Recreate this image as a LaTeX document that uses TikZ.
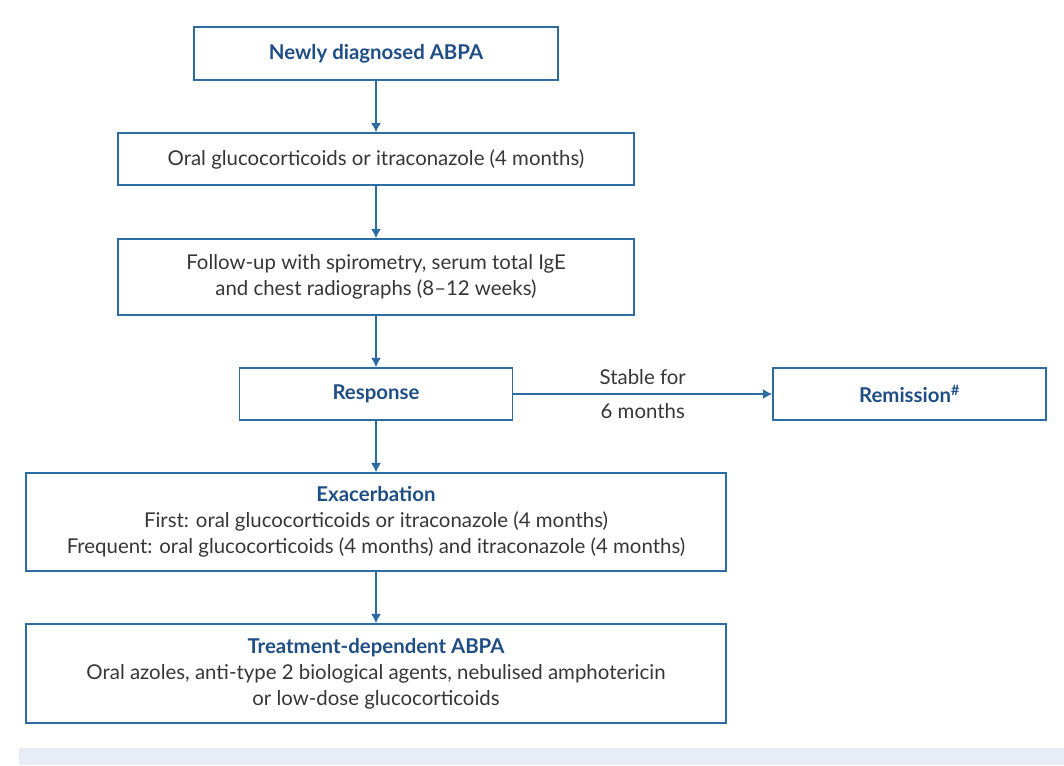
\documentclass[tikz,border=0pt]{standalone}
\usepackage{fontspec}
\setmainfont{Lato}
\usetikzlibrary{arrows.meta}
\definecolor{boxblue}{HTML}{2B6CA3}
\definecolor{titleblue}{HTML}{1F4E85}
\definecolor{textgrey}{HTML}{363636}
\definecolor{bandgrey}{HTML}{E8ECF4}
\newcommand{\flowtitle}[1]{{\color{titleblue}\bfseries #1}}

\begin{document}
\begin{tikzpicture}[x=0.75pt, y=-0.75pt, every node/.style={font=\fontsize{15.3}{19.5}\selectfont, text=textgrey}, >={Latex[length=7pt, width=7.5pt]},
	box/.style={draw=boxblue, line width=1.1pt, align=center, inner sep=0pt},
	flow/.style={->, draw=boxblue, line width=1.1pt}]
	\useasboundingbox (0,0) rectangle (1064,765);
	\fill[bandgrey] (19,748) rectangle (1064,765);
	% main column
	\node[box, minimum width=273pt, minimum height=39.75pt] (newly) at (376,53.5) {\flowtitle{Newly diagnosed ABPA}};
	\node[box, minimum width=387pt, minimum height=39pt] (oral) at (376,159) {Oral glucocorticoids or itraconazole (4 months)};
	\node[box, minimum width=387pt, minimum height=57pt] (follow) at (376,277) {Follow-up with spirometry, serum total IgE\\and chest radiographs (8–12 weeks)};
	\node[box, minimum width=204.75pt, minimum height=39pt] (resp) at (376,394) {\flowtitle{Response}};
	\node[box, minimum width=204.75pt, minimum height=39pt] (remis) at (909.5,394) {\flowtitle{Remission\textsuperscript{\#}}};
	\node[box, minimum width=525pt, minimum height=73.5pt] (exac) at (376,522) {\flowtitle{Exacerbation}\\First: oral glucocorticoids or itraconazole (4 months)\\Frequent: oral glucocorticoids (4 months) and itraconazole (4 months)};
	\node[box, minimum width=525pt, minimum height=74.25pt] (treat) at (376,673.5) {\flowtitle{Treatment-dependent ABPA}\\Oral azoles, anti-type 2 biological agents, nebulised amphotericin\\or low-dose glucocorticoids};
	% connectors
	\draw[flow] (newly) -- (oral);
	\draw[flow] (oral) -- (follow);
	\draw[flow] (follow) -- (resp);
	\draw[flow] (resp) -- node[above=3pt] (stable) {Stable for} node[below=3pt] (six) {6 months} (remis);
	\draw[flow] (resp) -- (exac);
	\draw[flow] (exac) -- (treat);
\end{tikzpicture}
\end{document}
